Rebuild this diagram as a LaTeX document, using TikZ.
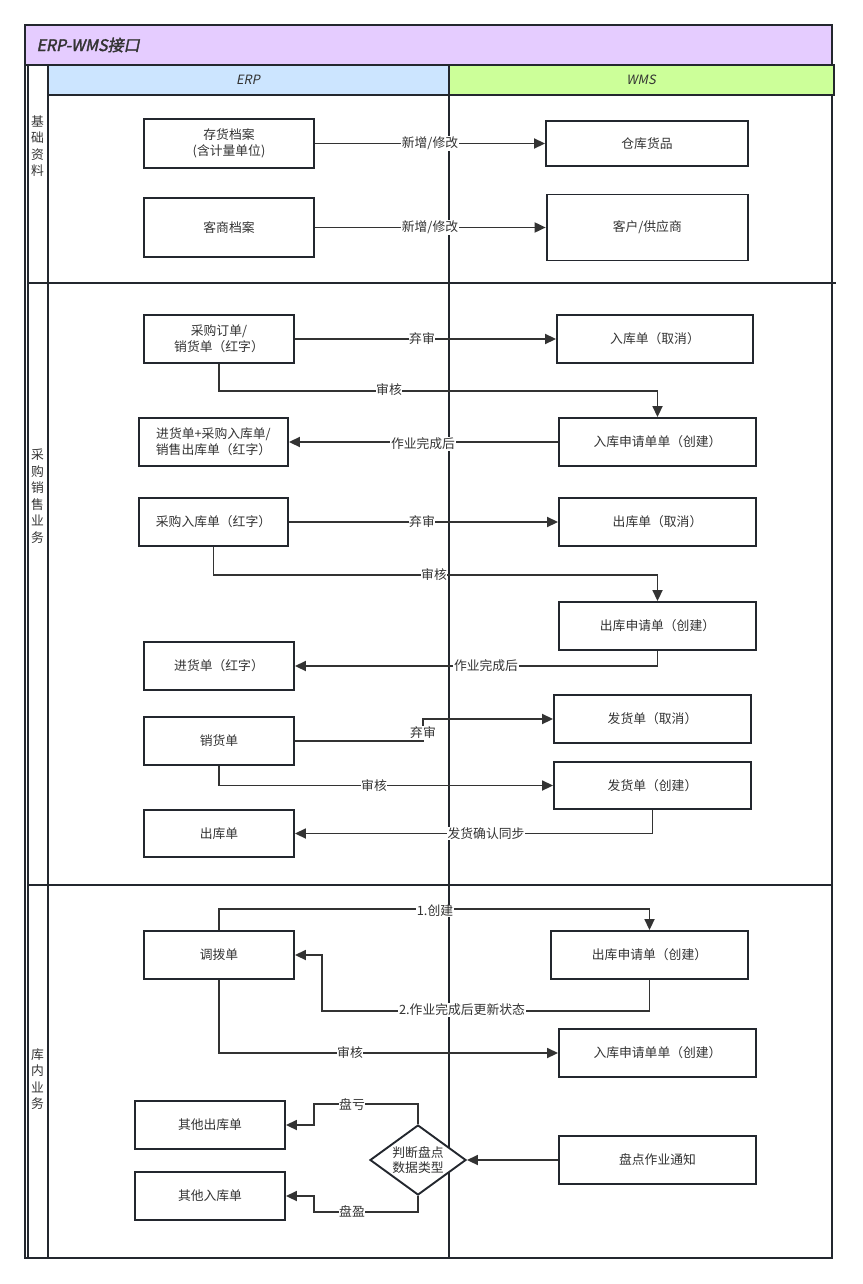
\documentclass[tikz,border=0pt]{standalone}
\usepackage{fontspec}
\setmainfont{Noto Sans CJK SC}
\newfontfamily\titlefont[FakeSlant=0.2,FakeBold=2]{Noto Sans CJK SC}
\newfontfamily\itfont[FakeSlant=0.2]{Noto Sans CJK SC}
\usetikzlibrary{arrows.meta,shapes.geometric}
\definecolor{boxc}{HTML}{23272E}
\definecolor{linec}{HTML}{333333}
\definecolor{txtc}{HTML}{333333}
\definecolor{titlebg}{HTML}{E5CCFF}
\definecolor{erpbg}{HTML}{CCE5FF}
\definecolor{wmsbg}{HTML}{CCFF99}
\begin{document}
\begin{tikzpicture}[x=1pt,y=-1pt,
 box/.style={draw=boxc,line width=1.9pt,fill=white,align=center,font=\fontsize{12.8}{16}\selectfont,text=txtc,inner sep=0pt},
 arr/.style={draw=linec,line width=1.8pt,-{Triangle[length=11pt,width=10pt]}},
 lbl/.style={fill=white,inner sep=0.6pt,font=\fontsize{12.8}{14}\selectfont,text=txtc},
 lanel/.style={draw=boxc,line width=1.9pt},
 lanetxt/.style={align=center,font=\fontsize{12.8}{16.5}\selectfont,text=txtc,inner sep=0pt}]
\useasboundingbox (0,0) rectangle (862,1284);
% pool
\draw[lanel,fill=titlebg] (25,25) rectangle (832,65);
\node[anchor=west,font=\titlefont\fontsize{16}{18}\selectfont,text=txtc] (title) at (33,45) {ERP-WMS接口};
\draw[lanel,fill=erpbg] (48,65) rectangle (449,95);
\draw[lanel,fill=wmsbg] (449,65) rectangle (834,95);
\node[font=\itfont\fontsize{12.8}{14}\selectfont,text=txtc] (erp) at (248,80) {ERP};
\node[font=\itfont\fontsize{12.8}{14}\selectfont,text=txtc] (wms) at (641,80) {WMS};
\draw[lanel] (25,65) -- (25,1258) -- (832,1258) -- (832,95);
\draw[draw=boxc,line width=1.2pt] (28,65) -- (28,1258);
\draw[lanel] (48,95) -- (48,1258);
\draw[lanel] (449,95) -- (449,1258);
\draw[lanel] (28,283) -- (836,283);
\draw[lanel] (28,885) -- (832,885);
\node[lanetxt] (L1) at (37.5,146) {基\\础\\资\\料};
\node[lanetxt] (L2) at (37.5,496) {采\\购\\销\\售\\业\\务};
\node[lanetxt] (L3) at (37.5,1079) {库\\内\\业\\务};
% lane 1
\node[box,minimum width=170,minimum height=49] (A1) at (229,143.5) {存货档案\\(含计量单位)};
\node[box,minimum width=170,minimum height=59] (A2) at (229,227.5) {客商档案};
\node[box,minimum width=202,minimum height=45] (W1) at (647,143.5) {仓库货品};
\node[box,minimum width=201.4,minimum height=66] (W2) at (647.3,227.5) {客户/供应商};
\draw[arr] (A1.east) -- (W1.west);
\node[lbl] (l1) at (430,143.5) {新增/修改};
\draw[arr] (A2.east) -- (W2.west);
\node[lbl] (l2) at (430,227.5) {新增/修改};
% lane 2
\node[box,minimum width=150,minimum height=48] (B1) at (219,339) {采购订单/\\销货单（红字）};
\node[box,minimum width=149,minimum height=48] (B2) at (213.5,442) {进货单+采购入库单/\\销售出库单（红字）};
\node[box,minimum width=149,minimum height=48] (B3) at (213.5,522) {采购入库单（红字）};
\node[box,minimum width=150,minimum height=48] (B4) at (219,666) {进货单（红字）};
\node[box,minimum width=150,minimum height=48] (B5) at (219,741) {销货单};
\node[box,minimum width=150,minimum height=47] (B6) at (219,833.5) {出库单};
\node[box,minimum width=196,minimum height=48] (C1) at (655,339) {入库单（取消）};
\node[box,minimum width=197,minimum height=48] (C2) at (657.5,442) {入库申请单单（创建）};
\node[box,minimum width=197,minimum height=48] (C3) at (657.5,522) {出库单（取消）};
\node[box,minimum width=197,minimum height=48] (C4) at (657.5,626) {出库申请单（创建）};
\node[box,minimum width=197,minimum height=48] (C5) at (652.5,719) {发货单（取消）};
\node[box,minimum width=197,minimum height=47] (C6) at (652.5,785.5) {发货单（创建）};
\draw[arr] (B1.east) -- (C1.west);
\node[lbl] (l3) at (422,339) {弃审};
\draw[arr] (B1.south) -- ++(0,27) -| (C2.north);
\node[lbl] (l4) at (389,390) {审核};
\draw[arr] (C2.west) -- (B2.east);
\node[lbl] (l5) at (423,444) {作业完成后};
\draw[arr] (B3.east) -- (C3.west);
\node[lbl] (l6) at (422,522) {弃审};
\draw[arr] (B3.south) -- ++(0,28) -| (C4.north);
\node[lbl] (l7) at (434,575) {审核};
\draw[arr] (C4.south) |- (B4.east);
\node[lbl] (l8) at (486,666) {作业完成后};
\draw[arr] (B5.east) -- ++(128,0) |- (C5.west);
\node[lbl] (l9) at (423,733) {弃审};
\draw[arr] (B5.south) |- (C6.west);
\node[lbl] (l10) at (374,786) {审核};
\draw[arr] (C6.south) |- (B6.east);
\node[lbl] (l11) at (486,833.5) {发货确认同步};
% lane 3
\node[box,minimum width=150,minimum height=48] (D1) at (219,955) {调拨单};
\node[box,minimum width=150,minimum height=48] (D2) at (210,1125) {其他出库单};
\node[box,minimum width=150,minimum height=48] (D3) at (210,1196) {其他入库单};
\node[box,minimum width=197,minimum height=48] (E1) at (649.5,955) {出库申请单（创建）};
\node[box,minimum width=197,minimum height=48] (E2) at (657.5,1053) {入库申请单单（创建）};
\node[box,minimum width=197,minimum height=48] (E3) at (657.5,1160) {盘点作业通知};
\node[box,diamond,aspect=1.37,minimum width=96,minimum height=70,font=\fontsize{12.8}{15}\selectfont] (dia) at (418,1160) {判断盘点\\数据类型};
\coordinate (k1) at (322,955);
\coordinate (k2) at (314,1125);
\coordinate (k3) at (314,1196);
\draw[arr] (D1.north) -- ++(0,-21) -| (E1.north);
\node[lbl] (l12) at (435,911) {1.创建};
\draw[arr] (E1.south) -- ++(0,31) -| (k1) -- (D1.east);
\node[lbl] (l13) at (462,1010) {2.作业完成后更新状态};
\draw[arr] (D1.south) |- (E2.west);
\node[lbl] (l14) at (350,1053) {审核};
\draw[arr] (E3.west) -- (dia.east);
\draw[arr] (dia.north) -- ++(0,-20) -| (k2) -- (D2.east);
\node[lbl] (l15) at (352,1105) {盘亏};
\draw[arr] (dia.south) -- ++(0,16) -| (k3) -- (D3.east);
\node[lbl] (l16) at (352,1211) {盘盈};
\end{tikzpicture}
\end{document}
